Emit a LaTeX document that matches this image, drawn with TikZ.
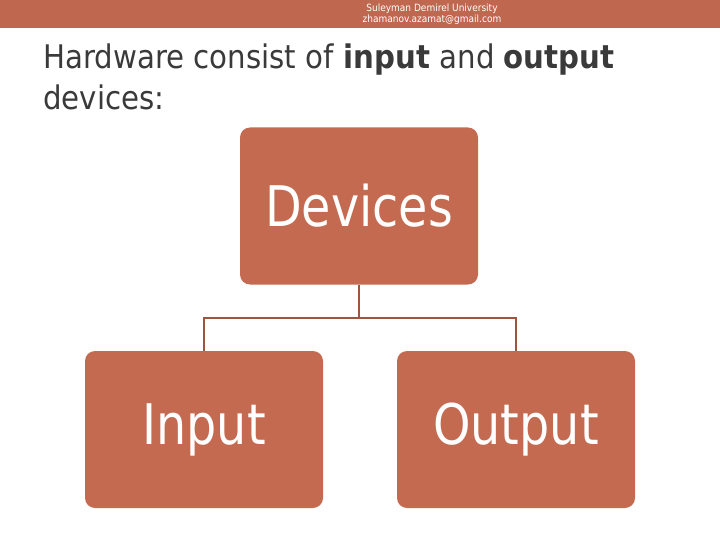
\documentclass[tikz,border=0pt]{standalone}
\usepackage{fontspec}
\setmainfont{DejaVu Sans}
\definecolor{bar}{HTML}{C0674F}
\definecolor{boxc}{HTML}{C46A50}
\definecolor{txt}{HTML}{3A3A3A}
\begin{document}
\begin{tikzpicture}[x=1pt,y=-1pt,
  box/.style={fill=boxc,draw=none,rounded corners=10pt,minimum width=238pt,minimum height=157pt,text=white,font=\fontsize{56}{60}\selectfont\addfontfeature{FakeStretch=0.85}},
  conn/.style={draw=boxc!80!black,line width=1.2pt}]
\useasboundingbox (0,0) rectangle (720,540);
\fill[bar] (0,0) rectangle (720,28);
\node[text=white,align=center,font=\fontsize{10}{11}\selectfont\addfontfeature{FakeStretch=0.9}] (hdr) at (432,14) {Suleyman Demirel University\\zhamanov.azamat@gmail.com};
\node[anchor=north west,inner sep=0pt,text=txt,align=left,font=\fontsize{32.5}{41}\selectfont\addfontfeature{FakeStretch=0.9}] (title) at (43,44) {Hardware consist of \textbf{input} and \textbf{output}\\devices:};
\node[box] (dev) at (359,206) {Devices};
\node[box] (in) at (204,429.5) {Input};
\node[box] (out) at (516,429.5) {Output};
\coordinate (j) at (359,318);
\draw[conn] (dev.south) -- (j);
\draw[conn] (in.north) |- (j) -| (out.north);
\end{tikzpicture}
\end{document}
